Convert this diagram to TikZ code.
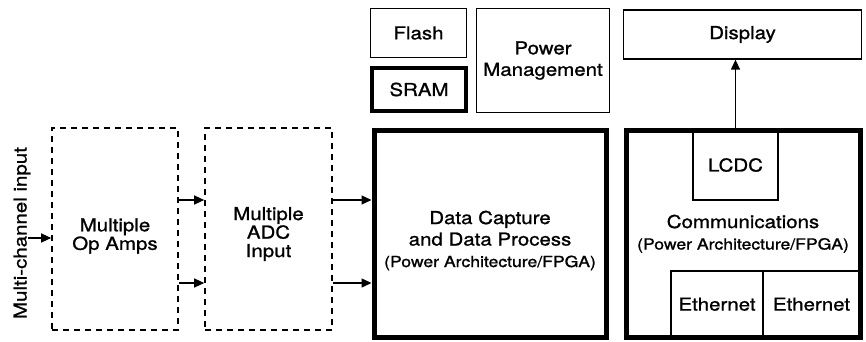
\documentclass[tikz,border=0pt]{standalone}
\usepackage{fontspec}
\setmainfont{TeX Gyre Heros}
\newfontfamily\diagfont{TeX Gyre Heros}[FakeStretch=1.15, FakeBold=1.1]
\usetikzlibrary{arrows.meta}

\newcommand{\archnote}[1]{{\fontsize{15.3}{21.5}\selectfont #1}}

\begin{document}
\begin{tikzpicture}[x=1pt, y=-1pt]
    % Styles
    \tikzstyle{block} = [rectangle, draw=black, line width=1.3pt, inner sep=0pt, align=center, font=\diagfont\fontsize{17.8}{21.5}\selectfont]
    \tikzstyle{dashblock} = [block, line width=1.6pt, dash pattern=on 6pt off 5pt]
    \tikzstyle{thickblock} = [block, line width=5pt]
    \tikzstyle{txt} = [inner sep=0pt, align=center, font=\diagfont\fontsize{17.8}{21.5}\selectfont]
    \tikzstyle{arrow} = [-{Triangle[length=10pt, width=9pt]}, line width=1.3pt]

    \useasboundingbox (0,0) rectangle (866,342);

    % Nodes - input side
    \node[txt, rotate=90] (mcin) at (22,233) {Multi-channel input};
    \node[dashblock, minimum width=126, minimum height=202] (opamp) at (115,229) {};
    \node[txt, font=\diagfont\fontsize{17.8}{18.5}\selectfont] (opampTxt) at (115,236) {Multiple\\Op Amps};
    \node[dashblock, minimum width=127, minimum height=202] (adc) at (268.5,229) {};
    \node[txt, font=\diagfont\fontsize{17.8}{18.5}\selectfont] (adcTxt) at (268.5,234) {Multiple\\ADC\\Input};

    % Nodes - processing
    \node[thickblock, minimum width=232, minimum height=207.5] (capture) at (490,233.75) {};
    \node[txt] (captureTxt) at (490,240.5) {Data Capture\\and Data Process\\\archnote{(Power Architecture/FPGA)}};
    \node[block, minimum width=96, minimum height=49] (flash) at (418.5,33) {Flash};
    \node[block, line width=4.5pt, minimum width=94, minimum height=43] (sram) at (419,89.5) {SRAM};
    \node[block, minimum width=133, minimum height=104] (power) at (543,60.5) {Power\\Management};

    % Nodes - communications
    \node[block, minimum width=238, minimum height=49] (display) at (742.5,34.5) {Display};
    \node[thickblock, minimum width=234, minimum height=207.5] (comms) at (743,233.75) {Communications\\\archnote{(Power Architecture/FPGA)}};
    \node[block, minimum width=85, minimum height=70] (lcdc) at (735.5,165) {LCDC};
    \node[block, minimum width=92, minimum height=66.5] (eth1) at (717,304.25) {Ethernet};
    \node[block, minimum width=97, minimum height=66.5] (eth2) at (811.5,304.25) {Ethernet};

    % Arrows
    \coordinate (inp) at (28,238);
    \draw[arrow] (inp) -- (inp -| opamp.west);
    \draw[arrow] (opamp.east |- 0,200) -- (adc.west |- 0,200);
    \draw[arrow] (opamp.east |- 0,283) -- (adc.west |- 0,283);
    \draw[arrow] (adc.east |- 0,200) -- (capture.west |- 0,200);
    \draw[arrow] (adc.east |- 0,283) -- (capture.west |- 0,283);
    \draw[arrow] (lcdc.north) -- (lcdc.north |- display.south);
\end{tikzpicture}
\end{document}
